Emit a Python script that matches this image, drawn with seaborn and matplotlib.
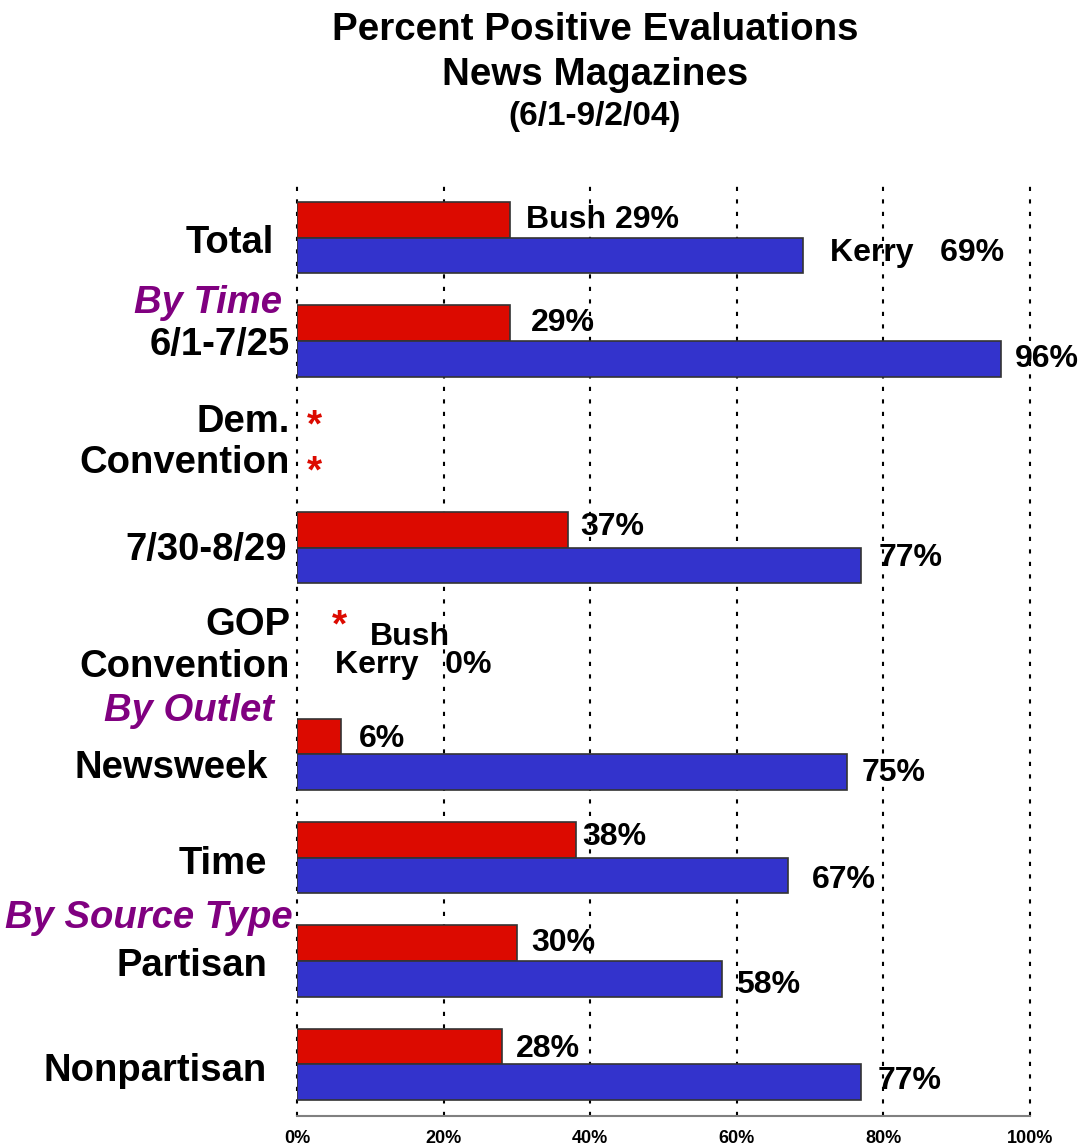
import numpy as np
import pandas as pd
import seaborn as sns
import matplotlib.pyplot as plt

# data
categories = ['Total', '6/1-7/25', 'Dem. Convention', '7/30-8/29', 'GOP Convention',
              'Newsweek', 'Time', 'Partisan', 'Nonpartisan']
row_labels = ['Total', '6/1-7/25', 'Dem.\nConvention', '7/30-8/29', 'GOP\nConvention',
              'Newsweek', 'Time', 'Partisan', 'Nonpartisan']
bush = [29, 29, np.nan, 37, np.nan, 6, 38, 30, 28]
kerry = [69, 96, np.nan, 77, 0, 75, 67, 58, 77]
bush_labels = ['Bush 29%', '29%', '*', '37%', 'Bush', '6%', '38%', '30%', '28%']
kerry_labels = ['Kerry   69%', '96%', '*', '77%', 'Kerry   0%', '75%', '67%', '58%', '77%']
groups = ['By Time', 'By Outlet', 'By Source Type']
group_rows = [1, 5, 7]
xticks = [0, 20, 40, 60, 80, 100]

RED = '#DC0A00'
BLUE = '#3333CC'
PURPLE = '#800080'
PT = 72 / 100  # pixels -> points at dpi 100

sns.set_style('white')
plt.rcParams['font.family'] = ['Liberation Sans', 'DejaVu Sans']
plt.rcParams['font.weight'] = 'bold'
plt.rcParams['text.color'] = 'black'
plt.rcParams['xtick.labelcolor'] = 'black'

df = pd.DataFrame({
    'category': categories * 2,
    'value': bush + kerry,
    'candidate': ['Bush'] * len(categories) + ['Kerry'] * len(categories),
})

fig = plt.figure(figsize=(10.8, 11.48), dpi=100)
ax = fig.add_axes([297 / 1080, 1 - 1116 / 1148, 733 / 1080, 930 / 1148])

W = 0.69
sns.barplot(data=df, x='value', y='category', hue='candidate', order=categories,
            hue_order=['Bush', 'Kerry'], palette={'Bush': RED, 'Kerry': BLUE},
            orient='h', width=W, saturation=1, edgecolor='#333333', linewidth=1.2,
            errorbar=None, legend=False, ax=ax)
for p in ax.patches:
    if p.get_width() == 0:
        p.set_linewidth(0)

ax.set_xlim(0, 100)
ax.set_ylim(len(categories) - 0.5, -0.5)
ax.set_xticks(xticks)
ax.set_xticklabels([f'{t}%' for t in xticks], fontsize=13, fontweight='bold', color='black')
ax.set_yticks([])
ax.set_xlabel('')
ax.set_ylabel('')
ax.set_axisbelow(True)
ax.grid(axis='x', color='black', linestyle=(0, (2, 4)), linewidth=1.5)
for g in ax.get_xgridlines():
    g.set_clip_on(False)
for s in ['top', 'right', 'left']:
    ax.spines[s].set_visible(False)
ax.spines['bottom'].set_color('#808080')
ax.spines['bottom'].set_linewidth(1.5)
ax.tick_params(axis='x', direction='out', length=4, width=1.5, color='#808080', pad=6)

# row labels (offsets in px: right edge from x=0, vertical from row centre)
row_dx = [-23, -7, -7, -10, -7, -29, -30, -30, -30]
row_dy = [5, 4, -2, 2, -5, 14, 6, 5, 7]
for i, lab in enumerate(row_labels):
    ax.annotate(lab, xy=(0, i), xytext=(row_dx[i] * PT, -row_dy[i] * PT),
                textcoords='offset points', ha='right', va='center',
                multialignment='right', fontsize=27.5, fontweight='bold',
                linespacing=1.18, color='black', annotation_clip=False)

group_dx = [-15, -23, -4]
group_dy = [-38, -43, -43]
for g, r, dx, dy in zip(groups, group_rows, group_dx, group_dy):
    ax.annotate(g, xy=(0, r), xytext=(dx * PT, -dy * PT), textcoords='offset points',
                ha='right', va='center', fontsize=27.5, fontweight='bold',
                style='italic', color=PURPLE, annotation_clip=False)

# value labels
bush_pad = [16, 21, 10, 12, 73, 18, 7, 14, 14]
bush_dy = [0, 0, 0, -3, 4, 2, -3, 0, 2]
kerry_pad = [27, 14, 10, 17, 38, 15, 24, 14, 16]
kerry_dy = [-2, 0, 10, -7, -4, 1, 5, 6, -1]
for i in range(len(categories)):
    for vals, labs, pads, dys, sign in [(bush, bush_labels, bush_pad, bush_dy, -1),
                                        (kerry, kerry_labels, kerry_pad, kerry_dy, 1)]:
        v = vals[i]
        x = 0 if np.isnan(v) else v
        lab = labs[i]
        star = lab == '*'
        ax.annotate(lab, xy=(x, i + sign * W / 4), xytext=(pads[i] * PT, -dys[i] * PT),
                    textcoords='offset points', ha='left', va='center',
                    fontsize=28 if star else 23, fontweight='bold',
                    color=RED if star else 'black', annotation_clip=False)

# red asterisk before the GOP "Bush" label
ax.annotate('*', xy=(0, 4 - W / 4), xytext=(35 * PT, 7 * PT), textcoords='offset points',
            ha='left', va='center', fontsize=28, fontweight='bold', color=RED,
            annotation_clip=False)

fig.text(595 / 1080, 1 - 30 / 1148, 'Percent Positive Evaluations', ha='center',
         va='center', fontsize=27.7, fontweight='bold', color='black')
fig.text(595 / 1080, 1 - 75 / 1148, 'News Magazines', ha='center',
         va='center', fontsize=27.7, fontweight='bold', color='black')
fig.text(595 / 1080, 1 - 117 / 1148, '(6/1-9/2/04)', ha='center',
         va='center', fontsize=24, fontweight='bold', color='black')

fig.savefig('out.png', dpi=100)
